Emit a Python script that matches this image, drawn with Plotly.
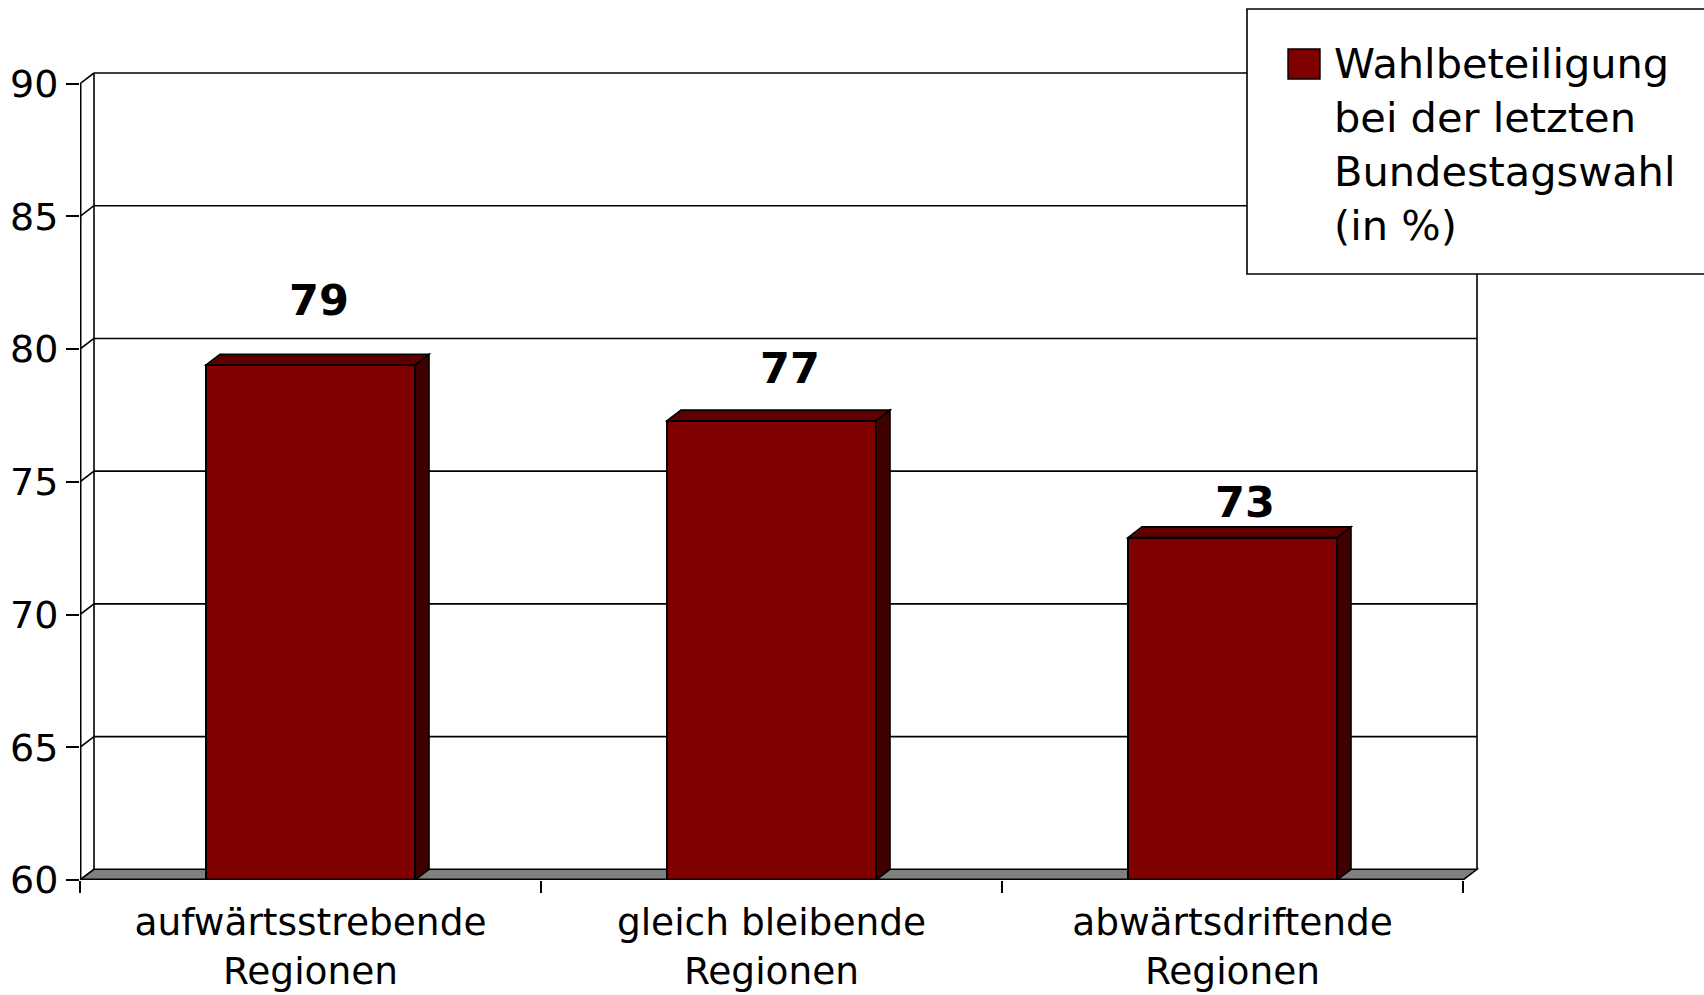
import plotly.graph_objects as go

# --- data -----------------------------------------------------------------
categories = [
    "aufwärtsstrebende<br>Regionen",
    "gleich bleibende<br>Regionen",
    "abwärtsdriftende<br>Regionen",
]
turnout = [79.4, 77.3, 72.9]
y_ticks = [60, 65, 70, 75, 80, 85, 90]
series_name = "Wahlbeteiligung<br>bei der letzten<br>Bundestagswahl<br>(in %)"

# --- canvas / geometry ------------------------------------------------------
W, H = 1704, 995
ML, MR, MT, MB = 80, 225, 71, 115
PW, PH = W - ML - MR, H - MT - MB
DEPTH_PX_X, DEPTH_PX_Y = 14.0, 10.7     # oblique depth of the 3-D box
PAD = 2.0                               # room so the back edges are not clipped
Y0, Y1 = y_ticks[0], y_ticks[-1]
n = len(categories)

PX_X = (PW - DEPTH_PX_X - PAD) / n
PX_Y = (PH - DEPTH_PX_Y - PAD) / (Y1 - Y0)
DX = DEPTH_PX_X / PX_X                  # depth offset in x data units
DY = DEPTH_PX_Y / PX_Y                  # depth offset in y data units
XL, XR = -0.5, n - 0.5
BAR_W = 0.4534

FONT = "DejaVu Sans"
BAR_FRONT = "#800000"
BAR_TOP = "#5e0000"
BAR_SIDE = "#400000"
FLOOR = "#808080"
INK = "#000000"

xs = list(range(n))

fig = go.Figure()
fig.add_trace(go.Bar(
    x=xs, y=turnout, width=BAR_W, name=series_name,
    marker=dict(color=BAR_FRONT, line=dict(color=INK, width=2)),
    customdata=categories, showlegend=False,
    hovertemplate="%{customdata}: %{y}<extra></extra>",
))

shapes = []


def seg(x0, y0, x1, y1, width=1.6, layer="below"):
    shapes.append(dict(type="line", xref="x", yref="y", x0=x0, y0=y0, x1=x1, y1=y1,
                       line=dict(color=INK, width=width), layer=layer))


def poly(pts, fill, layer="above", width=1.6):
    path = "M " + " L ".join(f"{px},{py}" for px, py in pts) + " Z"
    shapes.append(dict(type="path", xref="x", yref="y", path=path, fillcolor=fill,
                       line=dict(color=INK, width=width), layer=layer))


# back wall gridlines and left wall diagonals
for v in y_ticks[1:]:
    seg(XL + DX, v + DY, XR + DX, v + DY)
for v in y_ticks:
    seg(XL, v, XL + DX, v + DY)
# wall edges
seg(XL + DX, Y0 + DY, XL + DX, Y1 + DY)
seg(XR + DX, Y0 + DY, XR + DX, Y1 + DY)
# floor
poly([(XL, Y0), (XR, Y0), (XR + DX, Y0 + DY), (XL + DX, Y0 + DY)], FLOOR, layer="below")

# top and side faces of every bar
for i, v in enumerate(turnout):
    x0, x1 = i - BAR_W / 2, i + BAR_W / 2
    poly([(x0, v), (x1, v), (x1 + DX, v + DY), (x0 + DX, v + DY)], BAR_TOP)
    poly([(x1, Y0), (x1, v), (x1 + DX, v + DY), (x1 + DX, Y0 + DY)], BAR_SIDE)

# front axis lines (sit on the plot edge, so drawn wide; half is clipped)
seg(XL, Y0, XL, Y1, width=3, layer="above")
seg(XL, Y0, XR, Y0, width=3, layer="above")


def px_to_paper_x(px):
    return (px - ML) / PW


def px_to_paper_y(py):
    return (H - MB - py) / PH


# legend box and swatch
shapes.append(dict(type="rect", xref="paper", yref="paper",
                   x0=px_to_paper_x(1247), x1=px_to_paper_x(1730),
                   y0=px_to_paper_y(274), y1=px_to_paper_y(9),
                   fillcolor="white", line=dict(color=INK, width=1.6), layer="above"))
shapes.append(dict(type="rect", xref="paper", yref="paper",
                   x0=px_to_paper_x(1288), x1=px_to_paper_x(1320),
                   y0=px_to_paper_y(79), y1=px_to_paper_y(49),
                   fillcolor=BAR_FRONT, line=dict(color=INK, width=1.4), layer="above"))

annotations = [dict(
    xref="paper", yref="paper", x=px_to_paper_x(1332), y=px_to_paper_y(37),
    xanchor="left", yanchor="top", align="left", showarrow=False,
    text=series_name, font=dict(family=FONT, size=41.5, color=INK),
)]

# value labels above the bars
label_dx_px = [8, 18, 12]
label_lift_px = [65, 53, 36]
for i, v in enumerate(turnout):
    annotations.append(dict(
        x=i, y=v, xref="x", yref="y", text=f"<b>{v:.0f}</b>", showarrow=False,
        xanchor="center", yanchor="middle",
        xshift=label_dx_px[i], yshift=label_lift_px[i],
        font=dict(family=FONT, size=43, color=INK),
    ))

fig.update_layout(
    width=W, height=H,
    margin=dict(l=ML, r=MR, t=MT, b=MB, pad=0, autoexpand=False),
    paper_bgcolor="white", plot_bgcolor="white",
    shapes=shapes, annotations=annotations,
    showlegend=False, bargap=0,
    font=dict(family=FONT, color=INK),
    xaxis=dict(
        range=[XL, XR + (DEPTH_PX_X + PAD) / PX_X], automargin=False,
        tickmode="array", tickvals=xs, ticktext=categories,
        ticks="outside", ticklen=9, tickcolor="rgba(0,0,0,0)",
        tickfont=dict(family=FONT, size=37.5, color=INK),
        showgrid=False, zeroline=False, showline=False, fixedrange=True,
        minor=dict(tickmode="array", tickvals=[x + 0.5 for x in [-1] + xs],
                   ticks="outside", ticklen=12, tickwidth=1.6, tickcolor=INK,
                   showgrid=False),
    ),
    yaxis=dict(
        range=[Y0, Y1 + (DEPTH_PX_Y + PAD) / PX_Y], automargin=False,
        tickmode="array", tickvals=y_ticks,
        ticks="outside", ticklen=13, tickwidth=1.6, tickcolor=INK,
        tickfont=dict(family=FONT, size=38, color=INK),
        showgrid=False, zeroline=False, showline=False, fixedrange=True,
    ),
)

fig.write_html("out.html", config={"displayModeBar": False})
